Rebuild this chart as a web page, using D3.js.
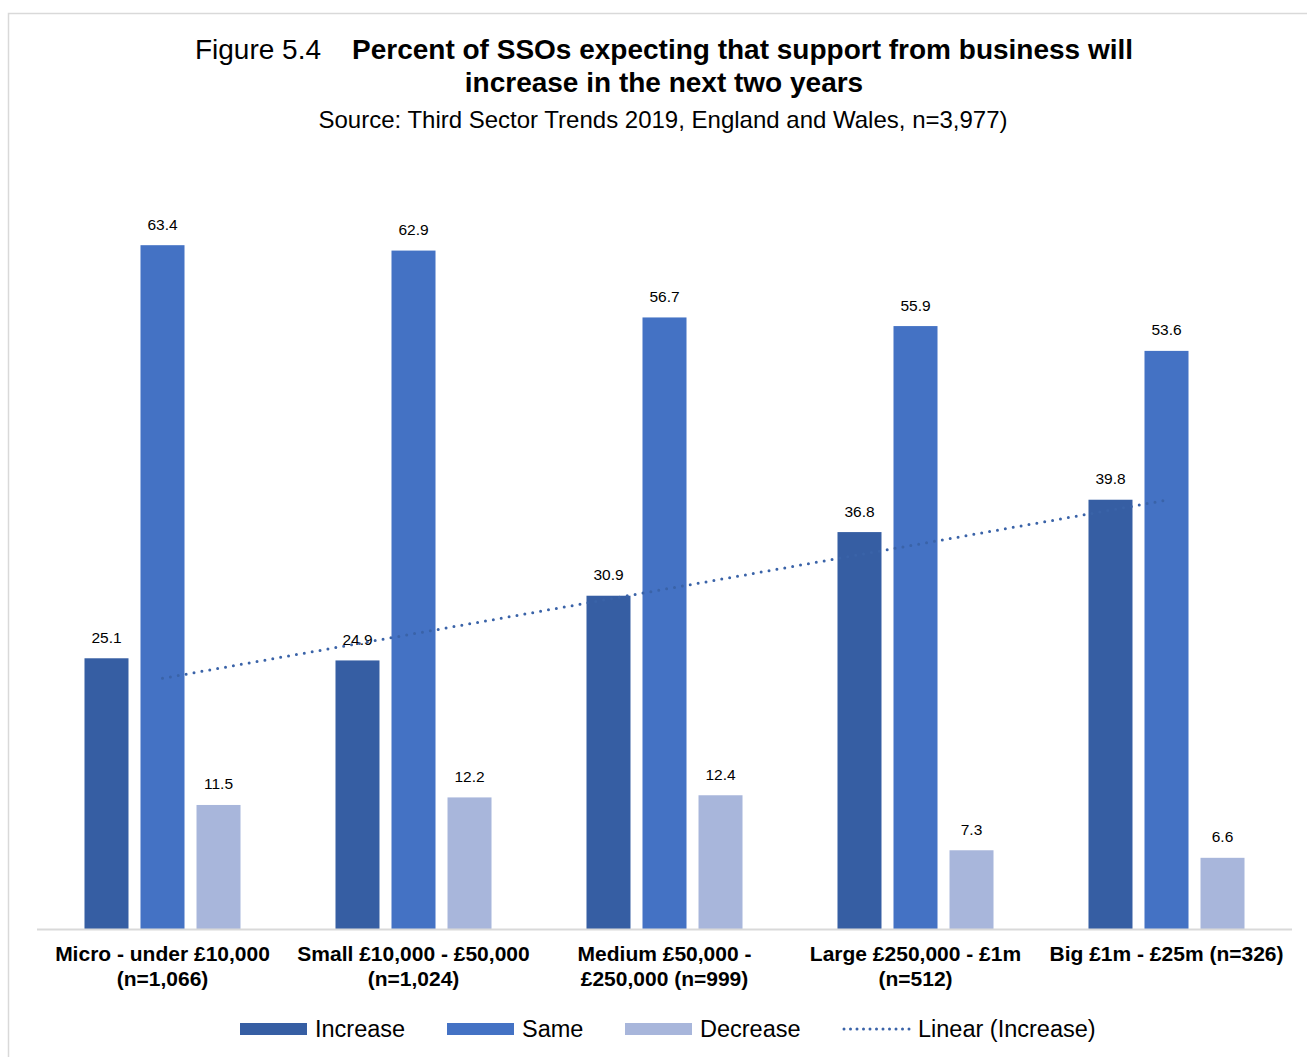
<!DOCTYPE html>
<html>
<head>
<meta charset="utf-8">
<script src="https://cdn.jsdelivr.net/npm/d3@7"></script>
<style>
  html, body { margin: 0; padding: 0; background: #fff; }
  svg { display: block; font-family: "Liberation Sans", Arial, sans-serif; }
</style>
</head>
<body>
<svg id="chart" width="1307" height="1057"></svg>
<script>
// Size bands (categories), each label split into its display lines
const categories = [
  ["Micro - under £10,000", "(n=1,066)"],
  ["Small £10,000 - £50,000", "(n=1,024)"],
  ["Medium £50,000 -", "£250,000 (n=999)"],
  ["Large £250,000 - £1m", "(n=512)"],
  ["Big £1m - £25m (n=326)"]
];
const seriesNames = ["Increase", "Same", "Decrease"];
const increase = [25.1, 24.9, 30.9, 36.8, 39.8];
const same     = [63.4, 62.9, 56.7, 55.9, 53.6];
const decrease = [11.5, 12.2, 12.4, 7.3, 6.6];
const trendName = "Linear (Increase)";

const colors = { Increase: "#365ea3", Same: "#4472c4", Decrease: "#a8b6db" };
const trendColor = "#3a63a8";

const svg = d3.select("#chart");
const W = 1307, H = 1057;

// Outer frame
svg.append("rect")
  .attr("x", 8.5).attr("y", 13.5)
  .attr("width", W + 10).attr("height", H + 10)
  .attr("fill", "none").attr("stroke", "#d9d9d9").attr("stroke-width", 1.5);

// Title block
const title = svg.append("text")
  .attr("x", 664).attr("y", 59)
  .attr("text-anchor", "middle")
  .attr("font-size", 28).attr("fill", "#000");
title.append("tspan").text("Figure 5.4");
title.append("tspan").attr("dx", 31).attr("font-weight", "bold")
  .text("Percent of SSOs expecting that support from business will");
svg.append("text")
  .attr("x", 664).attr("y", 92)
  .attr("text-anchor", "middle")
  .attr("font-size", 28).attr("font-weight", "bold").attr("fill", "#000")
  .text("increase in the next two years");
svg.append("text")
  .attr("x", 663).attr("y", 128)
  .attr("text-anchor", "middle")
  .attr("font-size", 24).attr("fill", "#000")
  .text("Source: Third Sector Trends 2019, England and Wales, n=3,977)");

// Scales
const x0 = d3.scaleBand()
  .domain(d3.range(categories.length))
  .range([37, 1292])
  .paddingInner(0).paddingOuter(0);
const x1 = d3.scaleBand()
  .domain(seriesNames)
  .range([0, x0.bandwidth()])
  .paddingInner(12 / 56)
  .paddingOuter(0.848);
const y = d3.scaleLinear().domain([0, 70]).range([929, 174]);

const data = categories.map((c, i) => ({
  i,
  values: [
    { key: "Increase", value: increase[i] },
    { key: "Same", value: same[i] },
    { key: "Decrease", value: decrease[i] }
  ]
}));

const groups = svg.append("g").selectAll("g")
  .data(data).join("g")
  .attr("transform", d => `translate(${x0(d.i)},0)`);

groups.selectAll("rect")
  .data(d => d.values).join("rect")
  .attr("x", d => x1(d.key))
  .attr("y", d => y(d.value))
  .attr("width", x1.bandwidth())
  .attr("height", d => y(0) - y(d.value))
  .attr("fill", d => colors[d.key]);

groups.selectAll("text.val")
  .data(d => d.values).join("text")
  .attr("class", "val")
  .attr("x", d => x1(d.key) + x1.bandwidth() / 2)
  .attr("y", d => y(d.value) - 15.5)
  .attr("text-anchor", "middle")
  .attr("font-size", 15.5).attr("fill", "#000")
  .text(d => d.value.toFixed(1));

// Category axis line
svg.append("line")
  .attr("x1", 37).attr("x2", 1292)
  .attr("y1", y(0) + 0.5).attr("y2", y(0) + 0.5)
  .attr("stroke", "#d9d9d9").attr("stroke-width", 2);

// Category labels
const catLabels = svg.append("g").selectAll("text")
  .data(categories).join("text")
  .attr("x", (d, i) => x0(i) + x0.bandwidth() / 2)
  .attr("y", 961)
  .attr("text-anchor", "middle")
  .attr("font-size", 21).attr("font-weight", "bold").attr("fill", "#000");
catLabels.selectAll("tspan")
  .data(d => d).join("tspan")
  .attr("x", function () { return d3.select(this.parentNode).attr("x"); })
  .attr("dy", (d, j) => j === 0 ? 0 : 25)
  .text(d => d);

// Linear trendline of the Increase series (least squares over category index)
const xs = increase.map((_, i) => i + 1);
const mx = d3.mean(xs), my = d3.mean(increase);
const slope = d3.sum(xs, (xv, i) => (xv - mx) * (increase[i] - my)) /
              d3.sum(xs, xv => (xv - mx) ** 2);
const intercept = my - slope * mx;
const trend = [1, increase.length].map(k => ({ k, v: intercept + slope * k }));
svg.append("path")
  .datum(trend)
  .attr("d", d3.line()
    .x(d => x0(d.k - 1) + x0.bandwidth() / 2)
    .y(d => y(d.v)))
  .attr("fill", "none")
  .attr("stroke", trendColor)
  .attr("stroke-width", 3)
  .attr("stroke-linecap", "round")
  .attr("stroke-dasharray", "0 8");

// Legend
const legendItems = [
  { name: "Increase", type: "bar", x: 240 },
  { name: "Same", type: "bar", x: 447 },
  { name: "Decrease", type: "bar", x: 625 },
  { name: trendName, type: "line", x: 842 }
];
const legend = svg.append("g").selectAll("g")
  .data(legendItems).join("g")
  .attr("transform", d => `translate(${d.x},1029)`);
legend.filter(d => d.type === "bar").append("rect")
  .attr("x", 0).attr("y", -6).attr("width", 67).attr("height", 12)
  .attr("fill", d => colors[d.name]);
legend.filter(d => d.type === "line").append("line")
  .attr("x1", 2).attr("x2", 68).attr("y1", 0).attr("y2", 0)
  .attr("stroke", trendColor).attr("stroke-width", 3)
  .attr("stroke-linecap", "round").attr("stroke-dasharray", "0 6.5");
legend.append("text")
  .attr("x", d => d.type === "bar" ? 75 : 76)
  .attr("y", 8)
  .attr("font-size", 23.5).attr("fill", "#000")
  .text(d => d.name);
</script>
</body>
</html>
